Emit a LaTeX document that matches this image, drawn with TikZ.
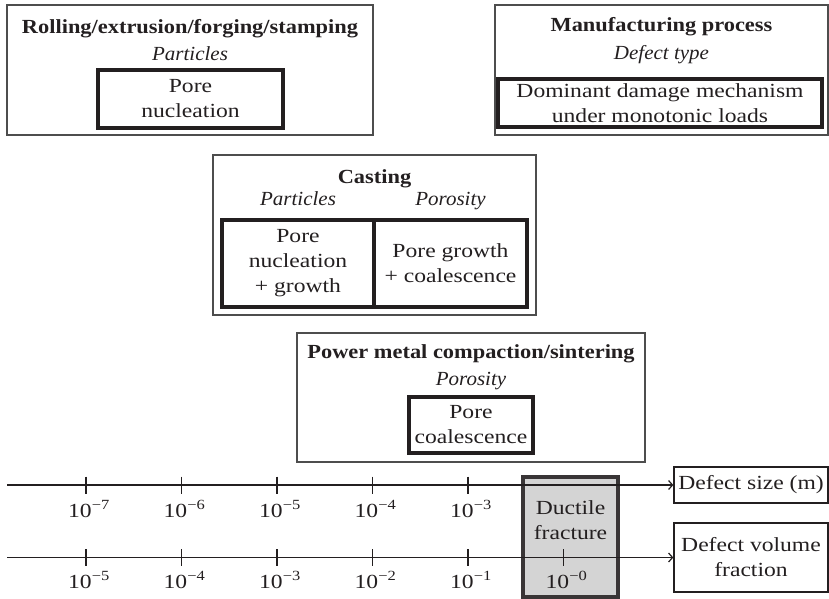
\documentclass[tikz,border=0pt]{standalone}
\usepackage{fontspec}
\setmainfont{Liberation Serif}[FakeStretch=1.18]
\newfontfamily\titlefont{Liberation Serif}[FakeStretch=1.12]
\newfontfamily\typefont{Liberation Serif}[FakeStretch=1.05]
\usetikzlibrary{arrows.meta}

\definecolor{ink}{HTML}{231F20}
\definecolor{frame}{HTML}{4D4D4D}
\definecolor{shade}{HTML}{D4D4D4}

\tikzset{
  procbox/.style={draw=frame, line width=1.4pt, inner sep=0pt},
  mechbox/.style={draw=ink, line width=3.4pt, inner sep=0pt, align=center, text=ink},
  proctitle/.style={anchor=base, font=\titlefont\bfseries, text=ink, inner sep=0pt},
  defecttype/.style={anchor=base, font=\typefont\itshape, text=ink, inner sep=0pt},
  axisline/.style={draw=ink, line width=1.3pt, -{Straight Barb[length=4pt,width=9pt,line width=1.2pt]}},
  tickmark/.style={draw=ink, line width=1.3pt},
  ticklabel/.style={anchor=base, text=ink, inner sep=0pt},
  axisname/.style={draw=ink, line width=1.3pt, inner sep=0pt, align=center, text=ink},
  fracbox/.style={draw=ink!90, line width=3.4pt, fill=shade, inner sep=0pt},
}

\begin{document}
\fontsize{20}{25}\selectfont
\begin{tikzpicture}[x=1pt, y=-1pt]
\useasboundingbox (0,0) rectangle (829,598);

% Rolling / extrusion / forging / stamping
\node[procbox, minimum width=366, minimum height=130] (roll) at (190,70) {};
\node[proctitle] (rolltitle) at (190,33) {Rolling/extrusion/forging/stamping};
\node[defecttype] (rolltype) at (190,60) {Particles};
\node[mechbox, minimum width=185, minimum height=58] (rollmech) at (190.5,99) {Pore\\nucleation};

% Legend box
\node[procbox, minimum width=333, minimum height=130] (legend) at (661.5,70) {};
\node[proctitle] (legtitle) at (661.5,31) {Manufacturing process};
\node[defecttype] (legtype) at (661.5,59) {Defect type};
\node[mechbox, minimum width=324, minimum height=48] (legmech) at (660,103) {Dominant damage mechanism\\under monotonic loads};

% Casting
\node[procbox, minimum width=323, minimum height=160] (cast) at (374.5,235) {};
\node[proctitle] (casttitle) at (374.5,183) {Casting};
\node[defecttype] (casttypeL) at (298,205) {Particles};
\node[defecttype] (casttypeR) at (450.5,205) {Porosity};
\node[mechbox, minimum width=152, minimum height=87] (castL) at (298,263.5) {Pore\\nucleation\\+ growth};
\node[mechbox, minimum width=153, minimum height=87] (castR) at (450.5,263.5) {Pore growth\\+ coalescence};

% Powder metal compaction / sintering
\node[procbox, minimum width=348, minimum height=129] (powder) at (471,397.5) {};
\node[proctitle] (powtitle) at (471,358) {Power metal compaction/sintering};
\node[defecttype] (powtype) at (471,385) {Porosity};
\node[mechbox, minimum width=124, minimum height=56] (powmech) at (471,425) {Pore\\coalescence};

% Ductile fracture band
\node[fracbox, minimum width=95, minimum height=120] (ductile) at (570.5,537) {};

% Axis names
\node[axisname, minimum width=154, minimum height=36] (sizebox) at (751,485) {Defect size (m)};
\node[axisname, minimum width=154, minimum height=69] (fracname) at (751,557.5) {Defect volume\\fraction};

% Axes
\coordinate (szstart) at (7,485);
\coordinate (vfstart) at (7,557.5);
\draw[axisline] (szstart) -- (sizebox.west);
\draw[axisline] (vfstart) -- (fracname.west);

\foreach \x/\e [count=\i] in {86/7,181.5/6,277/5,372.5/4,468/3} {
  \draw[tickmark] (\x,476.5) -- (\x,493.5);
  \node[ticklabel] (szlab\i) at (\x+3,517) {10\textsuperscript{−\e}};
}
\foreach \x/\e [count=\i] in {86/5,181.5/4,277/3,372.5/2,468/1,563.5/0} {
  \draw[tickmark] (\x,549) -- (\x,566);
  \node[ticklabel] (vflab\i) at (\x+3,588) {10\textsuperscript{−\e}};
}

\node[align=center, text=ink, inner sep=0pt] (ductext) at (570.5,520) {Ductile\\fracture};
\end{tikzpicture}
\end{document}
